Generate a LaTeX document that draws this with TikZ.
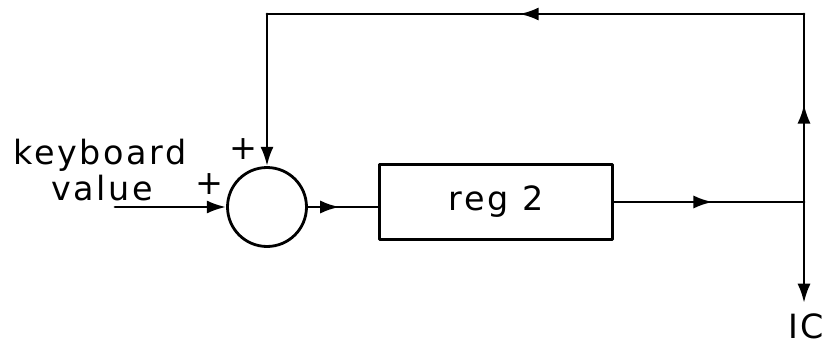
\documentclass[tikz,border=0pt]{standalone}
\usepackage{fontspec}
\newfontfamily\plotfont[LetterSpace=8]{DejaVu Sans}
\usetikzlibrary{arrows.meta,decorations.markings}

\begin{document}
\begin{tikzpicture}[
		x=0.02cm, y=-0.02cm,
		line width=1.6pt,
		line cap=round,
		line join=round,
		tip/.style={-{Latex[length=11pt,width=7.5pt]}},
		midtip/.style={postaction={decorate},
			decoration={markings,mark=at position #1 with {\arrow{Latex[length=11pt,width=7.5pt]}}}},
		lbl/.style={font=\plotfont\fontsize{19}{21}\selectfont, inner sep=0pt}
		]
		\useasboundingbox (0,0) rectangle (827,348);
		
		% summing junction and register
		\node[draw, circle, minimum size=1.58cm, inner sep=0pt] (sum) at (267,207) {};
		\node[draw, minimum width=4.66cm, minimum height=1.5cm, lbl] (reg) at (496,202) {reg 2};
		
		\coordinate (kin) at (115,207);
		\coordinate (br) at (804,202);
		\coordinate (tr) at (804,14);
		\coordinate (tl) at (267,14);
		\coordinate (ic) at (804,303);
		
		% labels
		\node[lbl, anchor=base] (kb) at (100,164) {keyboard};
		\node[lbl, anchor=base] (val) at (102,200) {value};
		\node[lbl] (pa) at (243,149) {+};
		\node[lbl] (pb) at (209,184) {+};
		\node[lbl, anchor=base] (icl) at (806,338) {IC};
		
		% signal path
		\draw[tip] (kin) -- (sum.west);
		\draw[midtip=0.45] (sum.east) -- (sum.east -| reg.west);
		\draw[midtip=0.52] (reg.east) -- (br);
		\draw[tip] (br) -- (ic);
		
		% feedback loop
		\draw[midtip=0.52] (br) -- (tr);
		\draw[midtip=0.53] (tr) -- (tl);
		\draw[tip] (tl) -- (sum.north);
		
	\end{tikzpicture}
\end{document}
